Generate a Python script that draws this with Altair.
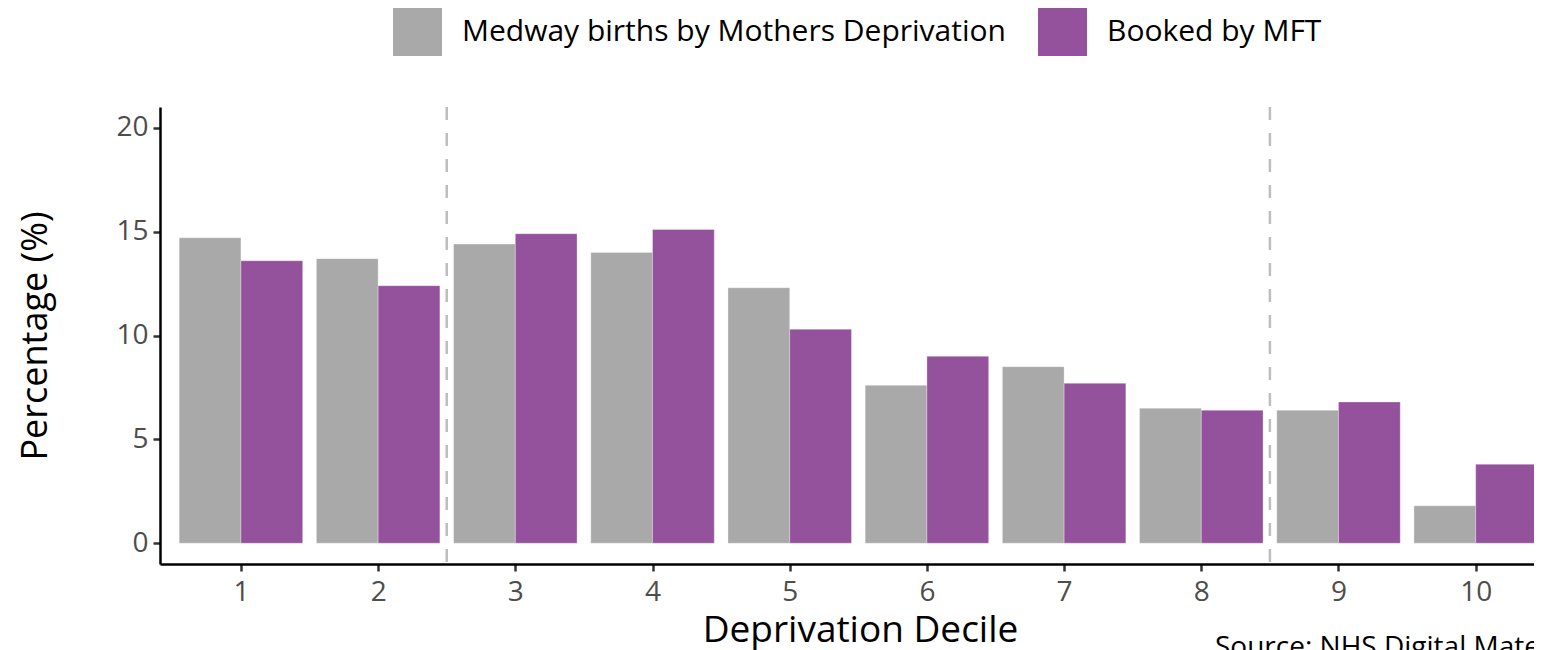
import altair as alt
import pandas as pd

deciles = [1, 2, 3, 4, 5, 6, 7, 8, 9, 10]
medway_births = [14.7, 13.7, 14.4, 14.0, 12.3, 7.6, 8.5, 6.5, 6.4, 1.8]
booked_mft = [13.6, 12.4, 14.9, 15.1, 10.3, 9.0, 7.7, 6.4, 6.8, 3.8]
series_names = ["Medway births by Mothers Deprivation", "Booked by MFT"]
series_colors = ["#A9A9A9", "#95529C"]
y_ticks = [0, 5, 10, 15, 20]
dividers = [2.5, 8.5]
source_text = ["Source: NHS Digital Maternity Services Data Set"]

rows = []
for i, d in enumerate(deciles):
    rows.append({"decile": d, "series": series_names[0], "idx": 0, "value": medway_births[i]})
    rows.append({"decile": d, "series": series_names[1], "idx": 1, "value": booked_mft[i]})
df = pd.DataFrame(rows)

FONT = "Open Sans"
xscale = alt.Scale(domain=[0.41, 10.425], nice=False, zero=False)
yscale = alt.Scale(domain=[-1, 21], nice=False, zero=False)

x_axis = alt.Axis(
    values=deciles,
    title="Deprivation Decile",
    titleFontSize=37,
    titleFontWeight="normal",
    titleColor="#000000",
    titleFont=FONT,
    titleX=700,
    titlePadding=6,
    labelFontSize=28,
    labelColor="#4D4D4D",
    labelFont=FONT,
    labelPadding=7,
    domainColor="#000000",
    domainWidth=2.5,
    tickColor="#333333",
    tickWidth=2.5,
    tickSize=7,
    grid=False,
    format="d",
)

bars = (
    alt.Chart(df)
    .transform_calculate(x0="datum.decile - 0.45 + 0.45 * datum.idx")
    .transform_calculate(x1="datum.x0 + 0.45")
    .mark_bar(stroke="#ffffff", strokeWidth=0.6, strokeOpacity=0.5)
    .encode(
        x=alt.X("x0:Q", scale=xscale, axis=x_axis),
        x2="x1:Q",
        y=alt.Y(
            "value:Q",
            scale=yscale,
            axis=alt.Axis(
                values=y_ticks,
                title="Percentage (%)",
                titleFontSize=36,
                titleFontWeight="normal",
                titleColor="#000000",
                titleFont=FONT,
                titlePadding=61,
                labelFontSize=28,
                labelColor="#4D4D4D",
                labelFont=FONT,
                labelPadding=5,
                domainColor="#000000",
                domainWidth=2.5,
                tickColor="#333333",
                tickWidth=2.5,
                tickSize=7,
                grid=False,
            ),
        ),
        y2=alt.datum(0),
        color=alt.Color(
            "series:N",
            scale=alt.Scale(domain=series_names, range=series_colors),
            sort=series_names,
            legend=alt.Legend(
                title=None,
                orient="none",
                legendX=233,
                legendY=-100,
                direction="horizontal",
                symbolType="square",
                symbolSize=2400,
                symbolStrokeWidth=0,
                symbolOpacity=1,
                labelFontSize=30,
                labelFont=FONT,
                labelColor="#000000",
                labelOffset=20,
                columnPadding=32,
                padding=0,
                labelLimit=800,
            ),
        ),
    )
)

rules = (
    alt.Chart(pd.DataFrame({"pos": dividers}))
    .mark_rule(color="#BEBEBE", strokeWidth=2.5, strokeDash=[13, 13])
    .encode(x=alt.X("pos:Q", scale=xscale, axis=x_axis))
)

source = (
    alt.Chart(pd.DataFrame({"label": source_text}))
    .mark_text(align="left", baseline="alphabetic", fontSize=28, font=FONT, color="#000000")
    .encode(text="label:N", x=alt.value(1055), y=alt.value(549))
)

chart = (
    alt.layer(bars, rules, source)
    .properties(
        width=1374,
        height=457,
        padding={"left": 152, "top": 99, "right": 0, "bottom": 86},
        autosize=alt.AutoSizeParams(type="none"),
        view=alt.ViewBackground(stroke="transparent", strokeWidth=0),
    )
    .configure_view(stroke="transparent", strokeWidth=0)
    .configure(font=FONT)
)

chart.save("out.html", embed_options={"renderer": "svg", "actions": False})
